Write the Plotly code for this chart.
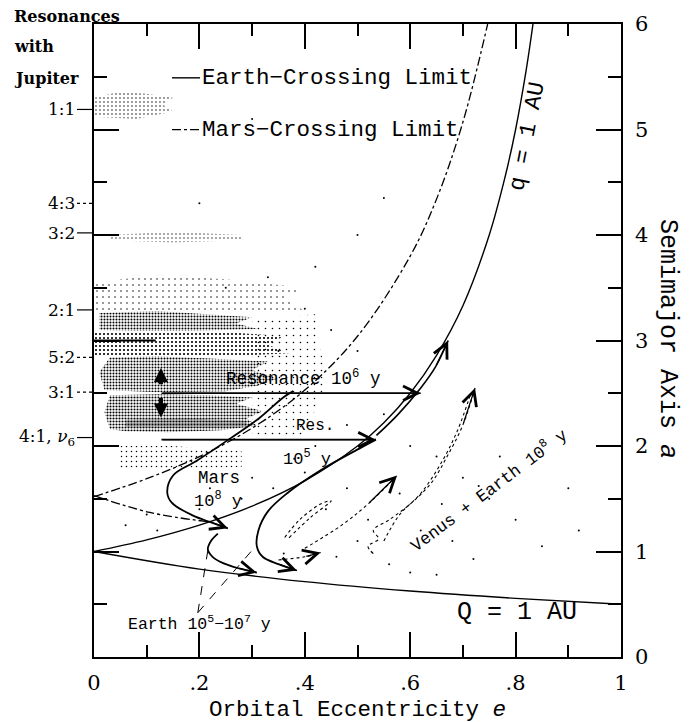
import plotly.graph_objects as go

# ---------------- data ----------------
# reference curves
Q1_E = [0.0, 0.1, 0.2, 0.3, 0.4, 0.5, 0.55, 0.6, 0.65, 0.7, 0.75, 0.78, 0.8, 0.82, 0.833]
Q1_A = [1.0, 1.11, 1.25, 1.43, 1.67, 2.0, 2.22, 2.5, 2.86, 3.33, 4.0, 4.55, 5.0, 5.56, 6.0]
QBIG_E = [0.0, 0.2, 0.4, 0.6, 0.8, 1.0]
QBIG_A = [1.0, 0.833, 0.714, 0.625, 0.556, 0.5]
MARS_UP_E = [0.0, 0.1, 0.2, 0.3, 0.4, 0.5, 0.6, 0.65, 0.7, 0.747]
MARS_UP_A = [1.52, 1.69, 1.90, 2.17, 2.53, 3.04, 3.80, 4.34, 5.07, 6.0]
MARS_LO_E = [0.0, 0.106, 0.22]
MARS_LO_A = [1.53, 1.37, 1.28]

# transport paths
MARS_PATH_E = [0.378, 0.359, 0.315, 0.258, 0.195, 0.150, 0.139, 0.148, 0.188, 0.220, 0.254]
MARS_PATH_A = [2.52, 2.46, 2.27, 2.07, 1.86, 1.72, 1.56, 1.46, 1.34, 1.28, 1.22]
EARTH1_E = [0.235, 0.222, 0.216, 0.225, 0.245, 0.275, 0.309]
EARTH1_A = [1.17, 1.10, 1.02, 0.95, 0.89, 0.84, 0.80]
EARTH2_E = [0.535, 0.505, 0.43, 0.366, 0.33, 0.312, 0.309, 0.32, 0.35, 0.385]
EARTH2_A = [2.06, 1.98, 1.77, 1.55, 1.38, 1.20, 1.05, 0.95, 0.88, 0.82]
UP_E = [0.536, 0.577, 0.620, 0.648, 0.672]
UP_A = [2.10, 2.30, 2.55, 2.75, 3.00]
RES1_E = [0.128, 0.62]
RES1_A = [2.5, 2.5]
RES2_E = [0.128, 0.535]
RES2_A = [2.06, 2.06]
HUNG_E = [0.0, 0.117]
HUNG_A = [3.0, 3.0]

# Venus + Earth dotted paths
V1_E = [0.53, 0.52, 0.54, 0.53, 0.56, 0.60, 0.64, 0.67, 0.70, 0.723]
V1_A = [0.98, 1.05, 1.12, 1.20, 1.30, 1.45, 1.65, 1.90, 2.20, 2.55]
V2_E = [0.55, 0.58, 0.62, 0.66, 0.69, 0.715]
V2_A = [1.10, 1.35, 1.55, 1.85, 2.15, 2.50]
V3_E = [0.40, 0.47, 0.52, 0.575]
V3_A = [1.03, 1.25, 1.45, 1.72]
V4_E = [0.37, 0.41, 0.45, 0.43, 0.39, 0.36]
V4_A = [1.13, 1.32, 1.48, 1.45, 1.30, 1.12]
V5_E = [0.35, 0.40, 0.43]
V5_A = [0.92, 0.95, 0.99]

# Earth label pointers
PTR1_E = [0.197, 0.216]
PTR1_A = [0.42, 1.01]
PTR2_E = [0.197, 0.305]
PTR2_A = [0.42, 1.04]

# asteroid population regions: (e list, a list, dot grid size, solidity)
BELT = [
    # Trojans (1:1)
    ([0.0, 0.0, 0.05, 0.10, 0.15, 0.13, 0.15, 0.08], [5.12, 5.30, 5.36, 5.34, 5.30, 5.24, 5.17, 5.10], 4, 0.10),
    # Hildas (3:2)
    ([0.03, 0.03, 0.15, 0.28, 0.28, 0.15], [3.95, 4.00, 4.03, 4.00, 3.95, 3.93], 4, 0.08),
    # outer sparse belt
    ([0.0, 0.0, 0.12, 0.25, 0.40, 0.36, 0.40, 0.2], [3.28, 3.55, 3.62, 3.58, 3.50, 3.40, 3.28, 3.27], 6, 0.05),
    # 2:1 - 3.1 AU dense band
    ([0.01, 0.01, 0.12, 0.22, 0.30, 0.27, 0.31, 0.18, 0.08], [3.10, 3.26, 3.28, 3.25, 3.22, 3.16, 3.11, 3.09, 3.09], 3, 0.36),
    # 2.84 - 3.08 AU
    ([0.0, 0.0, 0.10, 0.25, 0.36, 0.33, 0.37, 0.25, 0.10], [2.86, 3.07, 3.09, 3.08, 3.04, 2.96, 2.88, 2.85, 2.85], 4, 0.22),
    # 2.52 - 2.84 AU
    ([0.02, 0.01, 0.03, 0.12, 0.22, 0.33, 0.30, 0.35, 0.31, 0.25, 0.12], [2.53, 2.70, 2.84, 2.85, 2.83, 2.80, 2.72, 2.64, 2.57, 2.52, 2.51], 3, 0.36),
    # inner belt 2.15 - 2.48 AU
    ([0.03, 0.02, 0.03, 0.12, 0.22, 0.30, 0.27, 0.32, 0.29, 0.31, 0.24, 0.14, 0.06],
     [2.16, 2.32, 2.48, 2.49, 2.48, 2.46, 2.40, 2.33, 2.26, 2.19, 2.15, 2.13, 2.14], 3, 0.38),
    # dense strip near 2.2 AU
    ([0.06, 0.06, 0.18, 0.29, 0.29, 0.18], [2.18, 2.25, 2.26, 2.24, 2.18, 2.17], 2, 0.30),
    # Hungarias
    ([0.05, 0.05, 0.15, 0.28, 0.28, 0.15], [1.78, 2.00, 2.00, 1.95, 1.80, 1.77], 5, 0.07),
    # scattered high-e belt
    ([0.30, 0.30, 0.42, 0.44, 0.40], [2.1, 3.2, 3.25, 2.6, 2.1], 7, 0.04),
]
DOTS_E = [0.45, 0.50, 0.46, 0.55, 0.48, 0.42, 0.60, 0.65, 0.70, 0.75, 0.62, 0.68, 0.80, 0.85,
          0.90, 0.73, 0.77, 0.66, 0.58, 0.48, 0.50, 0.46, 0.56, 0.60, 0.72, 0.36, 0.34, 0.28,
          0.30, 0.22, 0.20, 0.10, 0.06, 0.12, 0.40, 0.38, 0.30, 0.35, 0.40, 0.33, 0.42, 0.25,
          0.50, 0.55, 0.30, 0.20, 0.65, 0.92, 0.44, 0.52]
DOTS_A = [3.10, 2.90, 2.60, 2.30, 2.20, 2.00, 2.00, 1.90, 1.70, 1.50, 1.20, 1.10, 1.30, 1.05,
          1.60, 1.62, 1.90, 1.45, 1.55, 1.60, 1.10, 0.95, 0.88, 0.80, 0.93, 0.98, 1.60, 1.50,
          1.70, 1.60, 1.40, 1.35, 1.25, 1.20, 1.75, 1.88, 2.60, 2.90, 3.30, 3.60, 3.70, 3.50,
          4.00, 4.35, 5.10, 4.30, 0.78, 1.20, 1.40, 1.30]

# axis ticks / labels
X_TICKS = [0, 0.2, 0.4, 0.6, 0.8, 1.0]
X_TICKTEXT = ["0", ".2", ".4", ".6", ".8", "1"]
Y_TICKS = [0, 1, 2, 3, 4, 5, 6]
RES_LABELS = ["1:1", "4:3", "3:2", "2:1", "5:2", "3:1", "4:1, <i>ν</i><sub>6</sub>"]
RES_A = [5.19, 4.30, 4.02, 3.29, 2.84, 2.51, 2.08]
RES_DASH = ["solid", "dot", "solid", "solid", "dot", "dot", "solid"]

# ---------------- figure ----------------
W, H = 695, 722
ML, MR, MT, MB = 94, 74, 22, 65
PW, PH = W - ML - MR, H - MT - MB
SERIF = "DejaVu Serif"
MONO = "Liberation Mono"


def px2paper(px, py):
    return (px - ML) / PW, (H - MB - py) / PH


def dat(px, py):
    return (px - ML) / PW, (H - MB - py) / PH * 6


fig = go.Figure()

for e, a, sz, sol in BELT:
    fig.add_trace(go.Scatter(x=e, y=a, mode="lines", fill="toself",
                             fillcolor="rgba(255,255,255,0)", line=dict(width=0),
                             fillpattern=dict(shape=".", size=sz, solidity=sol, fgcolor="black",
                                              fgopacity=1, bgcolor="rgba(255,255,255,0)",
                                              fillmode="overlay"),
                             hoverinfo="skip", showlegend=False))

fig.add_trace(go.Scatter(x=DOTS_E, y=DOTS_A, mode="markers",
                         marker=dict(size=2, color="black"), showlegend=False))


def line(xs, ys, width=1.5, dash="solid", shape="spline"):
    fig.add_trace(go.Scatter(x=xs, y=ys, mode="lines",
                             line=dict(color="black", width=width, dash=dash, shape=shape,
                                       smoothing=1.0),
                             showlegend=False, hoverinfo="skip"))


line(Q1_E, Q1_A, 1.4)
line(QBIG_E, QBIG_A, 1.4)
line(MARS_UP_E, MARS_UP_A, 1.3, "dashdot")
line(MARS_LO_E, MARS_LO_A, 1.3, "dashdot")
line(MARS_PATH_E, MARS_PATH_A, 1.8)
line(EARTH1_E, EARTH1_A, 1.8)
line(EARTH2_E, EARTH2_A, 1.8)
line(UP_E, UP_A, 1.6)
line(RES1_E, RES1_A, 1.6, shape="linear")
line(RES2_E, RES2_A, 1.6, shape="linear")
line(HUNG_E, HUNG_A, 2.0, shape="linear")
for ve, va in [(V1_E, V1_A), (V2_E, V2_A), (V3_E, V3_A), (V4_E, V4_A), (V5_E, V5_A)]:
    line(ve, va, 1.1, "dot")
line(PTR1_E, PTR1_A, 1.0, "dash", "linear")
line(PTR2_E, PTR2_A, 1.0, "dash", "linear")

anns = []


def arrow(xs, ys, k=-2):
    anns.append(dict(x=xs[-1], y=ys[-1], ax=xs[k], ay=ys[k], xref="x", yref="y",
                     axref="x", ayref="y", showarrow=True, arrowhead=5, arrowsize=2.2,
                     arrowwidth=1.3, arrowcolor="black", text=""))


arrow(RES1_E, RES1_A)
arrow(RES2_E, RES2_A)
arrow(MARS_PATH_E, MARS_PATH_A)
arrow(EARTH1_E, EARTH1_A)
arrow(EARTH2_E, EARTH2_A)
arrow(UP_E, UP_A)
arrow(V1_E, V1_A)
arrow(V3_E, V3_A)
arrow(V5_E, V5_A)
# double vertical arrows at e ~ 0.127
for y0, y1 in [(2.57, 2.74), (2.47, 2.27)]:
    anns.append(dict(x=0.127, y=y1, ax=0.127, ay=y0, xref="x", yref="y", axref="x", ayref="y",
                     showarrow=True, arrowhead=2, arrowsize=0.7, arrowwidth=4,
                     arrowcolor="black", text=""))


def text(x, y, s, size=17, angle=0, xanchor="center", ref="x", font=MONO, bold=False):
    if bold:
        s = "<b>" + s + "</b>"
    d = dict(x=x, y=y, text=s, showarrow=False, textangle=angle, xanchor=xanchor,
             yanchor="middle", font=dict(family=font, size=size, color="black"))
    if ref == "paper":
        d.update(xref="paper", yref="paper")
    else:
        d.update(xref="x", yref="y")
    anns.append(d)


# legend entries
lx0, ly0 = dat(172, 76)
lx1, _ = dat(200, 76)
line([lx0, lx1], [ly0, ly0], 1.4, shape="linear")
text(lx1, ly0, "Earth−Crossing Limit", 22.5, xanchor="left")
mx0, my0 = dat(172, 128)
line([mx0, lx1], [my0, my0], 1.3, "dashdot", "linear")
text(lx1, my0, "Mars−Crossing Limit", 22.5, xanchor="left")

# in-plot labels
for px, py, s, sz, ang in [
    (303, 377, "Resonance 10<sup>6</sup> y", 17.5, 0),
    (315, 425, "Res.", 16, 0),
    (307, 457, "10<sup>5</sup> y", 17, 0),
    (219, 477, "Mars", 17.5, 0),
    (218, 500, "10<sup>8</sup> y", 17, 0),
    (199, 623, "Earth 10<sup>5</sup>−10<sup>7</sup> y", 16.5, 0),
    (488, 489, "Venus + Earth 10<sup>8</sup> y", 17, -37),
    (517, 612, "Q = 1 AU", 25, 0),
    (527, 135, "q = 1 AU", 23, -79),
]:
    xx, yy = dat(px, py)
    text(xx, yy, s, sz, ang)

# outside labels
for px, py, s in [(12, 14, "Resonances"), (12, 45, "with"), (12, 77, "Jupiter")]:
    xx, yy = px2paper(px, py)
    text(xx, yy, s, 16, xanchor="left", ref="paper", font=SERIF, bold=True)

shapes = []
for lab, a, dsh in zip(RES_LABELS, RES_A, RES_DASH):
    py = H - MB - a / 6 * PH
    xx, yy = px2paper(77, py)
    anns.append(dict(x=xx, y=yy, xref="paper", yref="paper", text=lab, showarrow=False,
                     xanchor="right", yanchor="middle",
                     font=dict(family=SERIF, size=17, color="black")))
    shapes.append(dict(type="line", xref="paper", yref="y", x0=xx, x1=0, y0=a, y1=a,
                       line=dict(color="black", width=1.2, dash=dsh)))

xx, yy = px2paper(357, 710)
text(xx, yy, "Orbital Eccentricity <i>e</i>", 22.5, ref="paper")
xx, yy = px2paper(668, 338)
text(xx, yy, "Semimajor Axis <i>a</i>", 25, angle=90, ref="paper")

axis_common = dict(showline=True, linecolor="black", linewidth=1.5, mirror="allticks",
                   ticks="inside", tickcolor="black", tickwidth=1.5, ticklen=25,
                   showgrid=False, zeroline=False,
                   tickfont=dict(family=SERIF, size=21, color="black"))
fig.update_layout(
    width=W, height=H, margin=dict(l=ML, r=MR, t=MT, b=MB),
    paper_bgcolor="white", plot_bgcolor="white", showlegend=False,
    xaxis=dict(range=[0, 1], tickvals=X_TICKS, ticktext=X_TICKTEXT,
               minor=dict(dtick=0.1, ticklen=12, tickcolor="black", tickwidth=1.5, ticks="inside"),
               ticklabelstandoff=6, **axis_common),
    yaxis=dict(range=[0, 6], tickvals=Y_TICKS, side="right",
               minor=dict(dtick=0.5, ticklen=13, tickcolor="black", tickwidth=1.5, ticks="inside"),
               ticklabelstandoff=8, **axis_common),
    annotations=anns, shapes=shapes,
)

fig.write_html("out.html")
